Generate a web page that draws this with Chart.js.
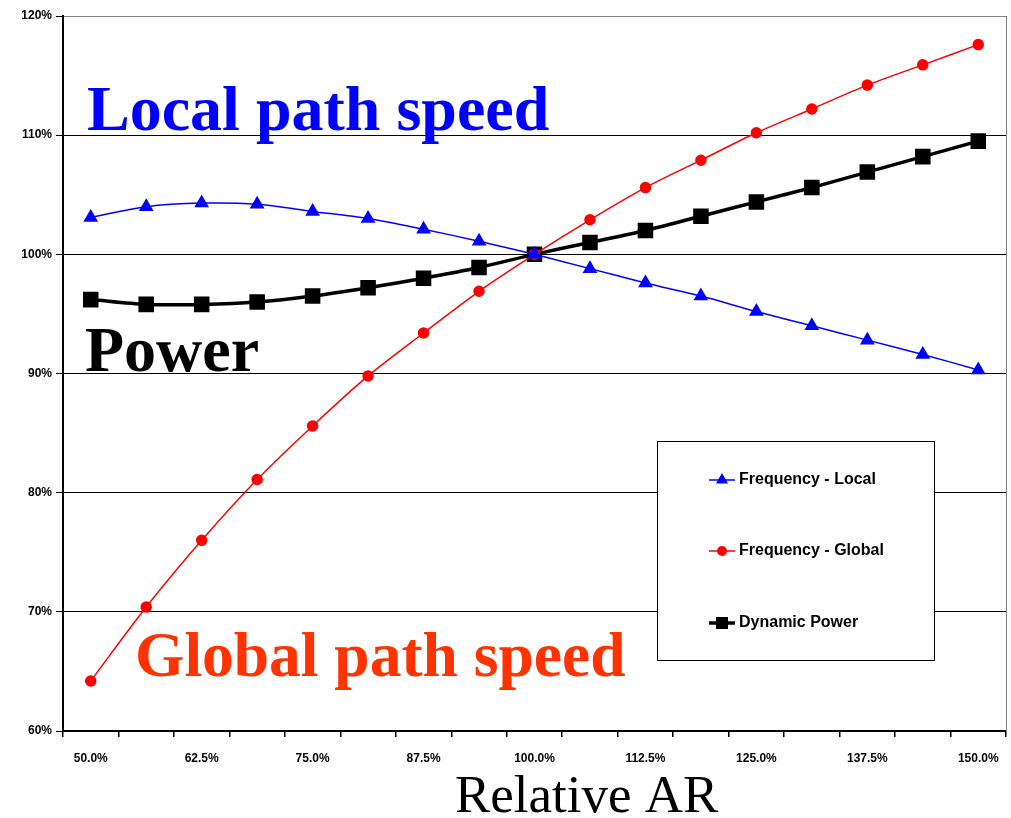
<!DOCTYPE html>
<html>
<head>
<meta charset="utf-8">
<script src="https://cdn.jsdelivr.net/npm/chart.js@4/dist/chart.umd.min.js"></script>
<style>
  body { margin: 0; background: #fff; }
  #wrap { width: 1011px; height: 818px; }
</style>
</head>
<body>
<div id="wrap"><canvas id="myChart" width="1011" height="818"></canvas></div>
<script>
// x categories (relative AR)
const categories = [
  "50.0%", "56.25%", "62.5%", "68.75%", "75.0%", "81.25%", "87.5%", "93.75%",
  "100.0%", "106.25%", "112.5%", "118.75%", "125.0%", "131.25%", "137.5%", "143.75%", "150.0%"
];

// series values (%)
const freqLocal = [103.1, 104.0, 104.3, 104.2, 103.6, 103.0, 102.1, 101.1, 100.0, 98.8, 97.6, 96.5, 95.2, 94.0, 92.8, 91.6, 90.3];
const freqGlobal = [64.2, 70.4, 76.0, 81.1, 85.6, 89.8, 93.4, 96.9, 100.0, 102.9, 105.6, 107.9, 110.2, 112.2, 114.2, 115.9, 117.6];
const dynPower = [96.2, 95.8, 95.8, 96.0, 96.5, 97.2, 98.0, 98.9, 100.0, 101.0, 102.0, 103.2, 104.4, 105.6, 106.9, 108.2, 109.5];

const seriesNames = ["Frequency - Local", "Frequency - Global", "Dynamic Power"];

// y axis range
const yMin = 60, yMax = 120, yStep = 10;

const SANS = '"Liberation Sans", Arial, sans-serif';
const SERIF = '"Liberation Serif", "Times New Roman", serif';

// small marker drawer, for the legend box
function marker(ctx, style, x, y, r, color) {
  ctx.fillStyle = color;
  ctx.beginPath();
  if (style === "triangle") {
    ctx.moveTo(x, y - r);
    ctx.lineTo(x + r * 0.866, y + r * 0.5);
    ctx.lineTo(x - r * 0.866, y + r * 0.5);
    ctx.closePath();
  } else if (style === "rect") {
    ctx.rect(x - r, y - r, 2 * r, 2 * r);
  } else {
    ctx.arc(x, y, r, 0, Math.PI * 2);
  }
  ctx.fill();
}

// text labels, legend box and right border
const extras = {
  id: "extras",
  afterDatasetsDraw(chart) {
    const ctx = chart.ctx;
    const a = chart.chartArea;
    ctx.save();

    // right border of plot area
    ctx.strokeStyle = "#808080";
    ctx.lineWidth = 1;
    ctx.beginPath();
    ctx.moveTo(a.right + 0.5, a.top);
    ctx.lineTo(a.right + 0.5, a.bottom);
    ctx.stroke();

    // big annotations
    ctx.textBaseline = "alphabetic";
    ctx.textAlign = "left";
    ctx.font = "bold 64px " + SERIF;
    ctx.fillStyle = "#0000ff";
    ctx.fillText("Local path speed", 87, 130);
    ctx.fillStyle = "#000";
    ctx.fillText("Power", 85, 371);
    ctx.font = "bold 63.5px " + SERIF;
    ctx.fillStyle = "#ff3300";
    ctx.fillText("Global path speed", 135, 676);

    // x axis title
    ctx.font = "53px " + SERIF;
    ctx.fillStyle = "#000";
    ctx.fillText("Relative AR", 455, 812);

    // legend box
    ctx.fillStyle = "#fff";
    ctx.fillRect(657, 441, 277, 219);
    ctx.strokeStyle = "#000";
    ctx.lineWidth = 1;
    ctx.strokeRect(657.5, 441.5, 277, 219);

    const rows = [480, 551, 623];
    chart.data.datasets.forEach((ds, i) => {
      const y = rows[i];
      ctx.strokeStyle = ds.borderColor;
      ctx.lineWidth = ds.borderWidth;
      ctx.beginPath();
      ctx.moveTo(709, y);
      ctx.lineTo(735, y);
      ctx.stroke();
      const r = ds.pointStyle === "rect" ? 6 : (ds.pointStyle === "triangle" ? 7 : 5);
      marker(ctx, ds.pointStyle, 722, y, r, ds.borderColor);
      ctx.fillStyle = "#000";
      ctx.font = "bold 16px " + SANS;
      ctx.textBaseline = "middle";
      ctx.fillText(ds.label, 739, y);
    });

    ctx.restore();
  }
};

const ctx = document.getElementById("myChart").getContext("2d");

const chart = new Chart(ctx, {
  type: "line",
  data: {
    labels: categories,
    datasets: [
      {
        label: seriesNames[0],
        data: freqLocal,
        borderColor: "#0000ff",
        backgroundColor: "#0000ff",
        borderWidth: 1.5,
        pointStyle: "triangle",
        pointRadius: 7,
        pointHoverRadius: 7,
        tension: 0.3
      },
      {
        label: seriesNames[1],
        data: freqGlobal,
        borderColor: "#ff0000",
        backgroundColor: "#ff0000",
        borderWidth: 1.5,
        pointStyle: "circle",
        pointRadius: 5,
        pointHoverRadius: 5,
        tension: 0.3
      },
      {
        label: seriesNames[2],
        data: dynPower,
        borderColor: "#000000",
        backgroundColor: "#000000",
        borderWidth: 3.5,
        pointStyle: "rect",
        pointRadius: 8.5,
        pointHoverRadius: 8.5,
        tension: 0.3
      }
    ]
  },
  options: {
    responsive: false,
    animation: false,
    layout: { autoPadding: false, padding: { left: 0, right: 5, top: 16, bottom: 0 } },
    plugins: {
      legend: { display: false },
      tooltip: { enabled: false }
    },
    scales: {
      x: {
        offset: true,
        afterFit(scale) {
          scale.height = 87;
          scale.paddingLeft = 0;
          scale.paddingRight = 0;
        },
        border: { color: "#000", width: 2 },
        grid: {
          offset: true,
          drawOnChartArea: false,
          drawTicks: true,
          tickLength: 6,
          color: "#000",
          lineWidth: 1.5
        },
        ticks: {
          autoSkip: false,
          maxRotation: 0,
          padding: 14,
          color: "#000",
          font: { family: SANS, size: 12, weight: "bold" },
          callback: function (v, i) { return i % 2 === 0 ? categories[i] : ""; }
        }
      },
      y: {
        min: yMin,
        max: yMax,
        afterFit(scale) { scale.width = 63; },
        border: { color: "#000", width: 2 },
        grid: {
          color: (c) => (c.tick && c.tick.value === yMax ? "#808080" : "#000"),
          tickColor: "#000",
          lineWidth: 1,
          tickLength: 7
        },
        ticks: {
          stepSize: yStep,
          padding: 4,
          color: "#000",
          font: { family: SANS, size: 12, weight: "bold" },
          callback: (v) => v + "%"
        }
      }
    }
  },
  plugins: [extras]
});
</script>
</body>
</html>
